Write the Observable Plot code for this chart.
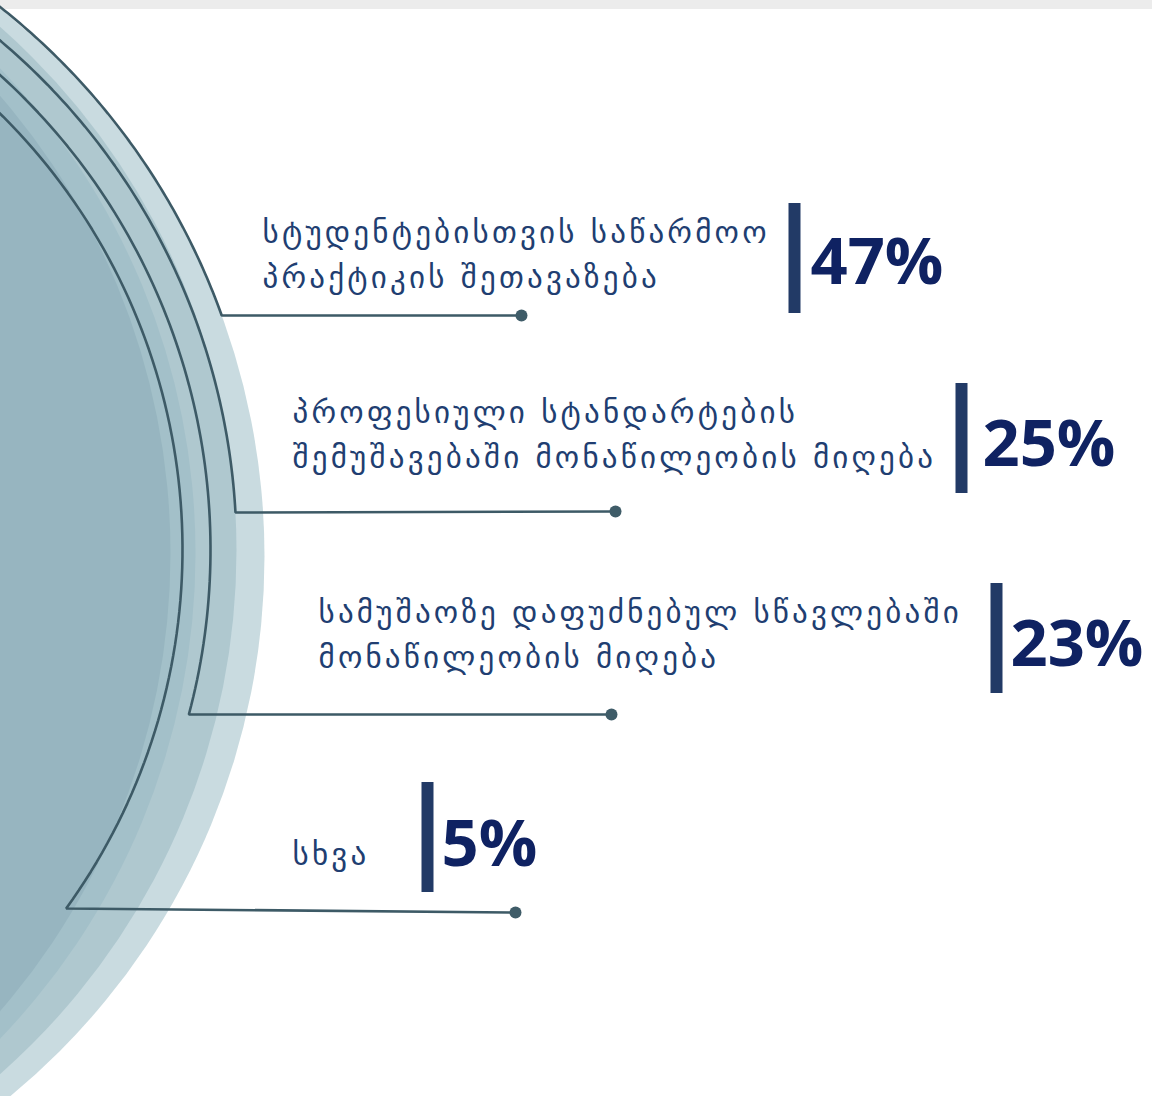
<!DOCTYPE html>
<html>
<head>
<meta charset="utf-8">
<script src="https://cdn.jsdelivr.net/npm/d3@7"></script>
<script src="https://cdn.jsdelivr.net/npm/@observablehq/plot@0.6"></script>
<style>
  html, body { margin: 0; padding: 0; background: #ffffff; }
  #chart svg { display: block; }
</style>
</head>
<body>
<div id="chart"></div>
<script>
// ---- data ----
const categories = [
  "სტუდენტებისთვის საწარმოო\nპრაქტიკის შეთავაზება",
  "პროფესიული სტანდარტების\nშემუშავებაში მონაწილეობის მიღება",
  "სამუშაოზე დაფუძნებულ სწავლებაში\nმონაწილეობის მიღება",
  "სხვა"
];
const values = [47, 25, 23, 5];

// ---- layout (pixel positions of the infographic) ----
const rowY      = [258, 438, 638, 837];   // centre of each value bar
const labelX    = [262, 292, 318, 292];
const labelBase = [287, 467, 667, 864];   // baseline of the last label line
const barX      = [794, 961, 996, 427];
const pctX      = [810, 982, 1010, 441];
const pctBase   = [283, 465, 665, 865];
const arcRadius = [692, 666, 640, 612];
const arcEndY   = [315, 512, 714, 908];
const dotX      = [521, 615, 611, 515];
const dotY      = [315, 511, 714, 912];

const W = 1152, H = 1096;
const arcCx = -430, arcCy = 549;

const rows = categories.map((c, i) => ({
  label: c, value: values[i],
  rowY: rowY[i], labelX: labelX[i], labelBase: labelBase[i],
  barX: barX[i], pctX: pctX[i], pctBase: pctBase[i],
  dotX: dotX[i], dotY: dotY[i]
}));

// decorative background discs (drawn outer to inner)
const discs = [
  {cx: -436, cy: 556, r: 700, fill: "#c9dbe0"},
  {cx: -462, cy: 550, r: 698, fill: "#afc8cf"},
  {cx: -505, cy: 553, r: 700, fill: "#a3c0c9"},
  {cx: -530, cy: 553, r: 700, fill: "#97b5c0"}
];

// decorative leader paths: arc of a circle, then a horizontal line to the dot
const leaders = rows.flatMap((d, i) => {
  const R = arcRadius[i];
  const a0 = -Math.acos(-arcCx / R) - 0.03;
  const a1 = Math.asin((arcEndY[i] - arcCy) / R);
  const pts = d3.range(0, 81).map(k => {
    const a = a0 + (a1 - a0) * k / 80;
    return {id: i, x: arcCx + R * Math.cos(a), y: arcCy + R * Math.sin(a)};
  });
  pts.push({id: i, x: d.dotX, y: d.dotY});
  return pts;
});

const chart = Plot.plot({
  width: W,
  height: H,
  margin: 0,
  x: {domain: [0, W], range: [0, W], axis: null},
  y: {domain: [0, H], range: [0, H], axis: null},
  r: {type: "identity"},
  color: {type: "identity"},
  marks: [
    Plot.rect([{}], {x1: 0, x2: W, y1: 0, y2: 9, fill: "#ececec"}),
    Plot.dot(discs, {x: "cx", y: "cy", r: "r", fill: "fill", stroke: null, sort: null}),
    Plot.line(leaders, {x: "x", y: "y", z: "id", stroke: "#3d5a66", strokeWidth: 2.6, strokeLinejoin: "miter", curve: "linear"}),
    Plot.dot(rows, {x: "dotX", y: "dotY", r: 6, fill: "#3f5c68", stroke: null}),
    Plot.ruleX(rows, {x: "barX", y1: d => d.rowY - 55, y2: d => d.rowY + 55, stroke: "#223a66", strokeWidth: 12}),
    Plot.text(rows, {x: "labelX", y: "labelBase", text: "label", textAnchor: "start", lineAnchor: "bottom",
      fontFamily: "DejaVu Sans", fontSize: 31, lineHeight: 1.45, fill: "#213e71"}),
    Plot.text(rows, {x: "pctX", y: "pctBase", text: d => d.value + "%", textAnchor: "start", lineAnchor: "bottom",
      fontFamily: "Open Sans", fontWeight: 700, fontSize: 65, fill: "#0f2262"})
  ]
});
chart.querySelectorAll('g[font-family="DejaVu Sans"] text').forEach(t => t.setAttribute("letter-spacing", "3.2"));
document.getElementById("chart").appendChild(chart);
</script>
</body>
</html>
